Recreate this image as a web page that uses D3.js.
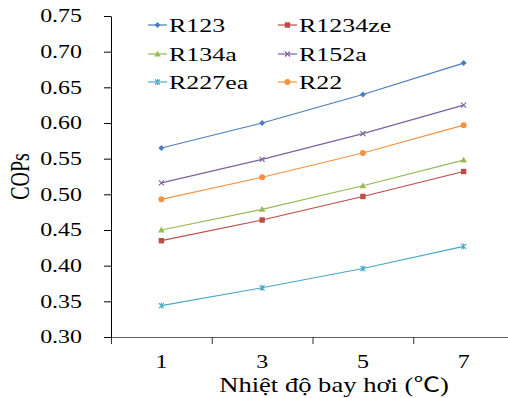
<!DOCTYPE html>
<html>
<head>
<meta charset="utf-8">
<script src="https://d3js.org/d3.v7.min.js"></script>
<style>
  body { margin: 0; background: #fff; }
  text { font-family: "Liberation Serif", "Noto Sans CJK SC", serif; fill: #000; }
</style>
</head>
<body>
<div id="chart"></div>
<script>
// data
const temps = ["1", "3", "5", "7"];
const names = ["R123", "R1234ze", "R134a", "R152a", "R227ea", "R22"];
const R123    = [0.565, 0.600, 0.640, 0.684];
const R1234ze = [0.435, 0.464, 0.497, 0.532];
const R134a   = [0.450, 0.479, 0.512, 0.548];
const R152a   = [0.516, 0.549, 0.585, 0.625];
const R227ea  = [0.344, 0.369, 0.396, 0.427];
const R22     = [0.493, 0.524, 0.558, 0.597];
const yTicks  = [0.30, 0.35, 0.40, 0.45, 0.50, 0.55, 0.60, 0.65, 0.70, 0.75];

const values = [R123, R1234ze, R134a, R152a, R227ea, R22];
const colors = ["#4a7ebb", "#be4b48", "#98b954", "#7d60a0", "#46aac5", "#f69240"];
const shapes = ["diamond", "square", "triangle", "x", "star", "circle"];

const width = 508, height = 398;
const plotL = 111, plotR = 514, plotT = 16, plotB = 337;
const sx = 1.33; // picture is stretched sideways

const svg = d3.select("#chart").append("svg")
    .attr("width", width)
    .attr("height", height);

const x = d3.scaleBand().domain(temps).range([plotL, plotR]).padding(0);
const xEdge = d3.scaleLinear().domain([0, temps.length]).range([plotL, plotR]);
const y = d3.scaleLinear().domain([0.30, 0.75]).range([plotB, plotT]);

// y axis
const gy = svg.append("g")
    .attr("transform", "translate(" + plotL + ",0)")
    .call(d3.axisLeft(y).tickValues(yTicks).tickSize(7).tickSizeOuter(0).tickFormat(d3.format(".2f")));
gy.select(".domain").attr("stroke", "#000");
gy.selectAll(".tick line").attr("stroke", "#000");
gy.selectAll(".tick text")
    .attr("x", null)
    .attr("font-size", 18)
    .attr("font-family", null)
    .attr("transform", "translate(-29,0) scale(" + sx + ",1)");

// x axis: tick marks between categories
const gx = svg.append("g")
    .attr("transform", "translate(0," + plotB + ")")
    .call(d3.axisBottom(xEdge).tickValues(d3.range(temps.length + 1)).tickSize(7).tickSizeOuter(0).tickFormat(""));
gx.select(".domain").attr("stroke", "#606060");
gx.selectAll(".tick line").attr("stroke", "#303030");

const gxl = svg.append("g")
    .attr("transform", "translate(0," + plotB + ")")
    .call(d3.axisBottom(x).tickSize(0));
gxl.select(".domain").remove();
gxl.selectAll(".tick text")
    .attr("y", null)
    .attr("dy", null)
    .attr("font-size", 18)
    .attr("font-family", null)
    .attr("transform", "translate(0,31) scale(" + sx + ",1)");

// axis titles
svg.append("text")
    .attr("text-anchor", "middle")
    .attr("font-size", 20)
    .attr("transform", "translate(334,392) scale(" + sx + ",1)")
    .text("Nhiệt độ bay hơi (℃)");

svg.append("text")
    .attr("text-anchor", "middle")
    .attr("font-size", 20)
    .attr("transform", "translate(29," + ((plotT + plotB) / 2) + ") rotate(-90) scale(1," + sx + ")")
    .text("COPs");

function marker(g, shape, color) {
    if (shape === "diamond") {
        g.append("path").attr("d", "M0,-3L3,0L0,3L-3,0Z").attr("fill", color);
    } else if (shape === "square") {
        g.append("rect").attr("x", -2.7).attr("y", -2.7).attr("width", 5.4).attr("height", 5.4).attr("fill", color);
    } else if (shape === "triangle") {
        g.append("path").attr("d", "M0,-3.3L3.3,2.5L-3.3,2.5Z").attr("fill", color);
    } else if (shape === "x") {
        g.append("path").attr("d", "M-2.5,-2.5L2.5,2.5M-2.5,2.5L2.5,-2.5").attr("stroke", color).attr("stroke-width", 1.1);
    } else if (shape === "star") {
        g.append("path").attr("d", "M-2.5,-2.5L2.5,2.5M-2.5,2.5L2.5,-2.5M0,-3L0,3").attr("stroke", color).attr("stroke-width", 1.1);
    } else {
        g.append("circle").attr("r", 3).attr("fill", color);
    }
}

const line = d3.line()
    .x((d, i) => x(temps[i]) + x.bandwidth() / 2)
    .y(d => y(d));

names.forEach((name, k) => {
    svg.append("path")
        .datum(values[k])
        .attr("fill", "none")
        .attr("stroke", colors[k])
        .attr("stroke-width", 1.2)
        .attr("d", line);
    values[k].forEach((v, i) => {
        const g = svg.append("g")
            .attr("transform", "translate(" + (x(temps[i]) + x.bandwidth() / 2) + "," + y(v) + ")");
        marker(g, shapes[k], colors[k]);
    });
});

// legend, two columns
const legX = [148, 278];
const legY = [25, 54, 82];
names.forEach((name, k) => {
    const lx = legX[k % 2], ly = legY[Math.floor(k / 2)];
    const g = svg.append("g").attr("transform", "translate(" + lx + "," + ly + ")");
    g.append("line").attr("x1", 0).attr("x2", 19).attr("stroke", colors[k]).attr("stroke-width", 1.2);
    marker(g.append("g").attr("transform", "translate(9.5,0)"), shapes[k], colors[k]);
    g.append("text")
        .attr("font-size", 19.5)
        .attr("dy", "0.34em")
        .attr("transform", "translate(21,0) scale(" + sx + ",1)")
        .text(name);
});
</script>
</body>
</html>
